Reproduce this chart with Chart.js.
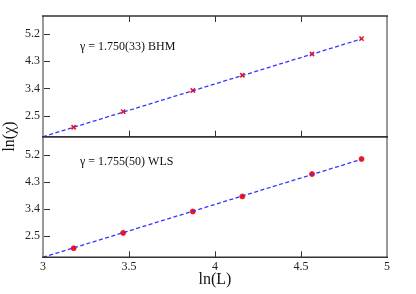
<!DOCTYPE html>
<html>
<head>
<meta charset="utf-8">
<script src="https://cdn.jsdelivr.net/npm/chart.js@4.4.1/dist/chart.umd.min.js"></script>
<style>
  html, body { margin:0; padding:0; background:#fff; }
  #wrap { position:relative; width:416px; height:294px; }
  canvas { position:absolute; left:0; top:0; }
</style>
</head>
<body>
<div id="wrap">
  <canvas id="bot" width="416" height="294"></canvas>
  <canvas id="top" width="416" height="294"></canvas>
</div>
<script>
// ---- data ----
const lnL      = [3.178, 3.466, 3.871, 4.159, 4.564, 4.852];
const chiBHM   = [2.115, 2.63, 3.33, 3.835, 4.54, 5.05];
const chiWLS   = [2.10, 2.61, 3.32, 3.82, 4.56, 5.06];
const fitX     = [3.0, 4.852];
const fitBHM   = [1.80, 5.04];
const fitWLS   = [1.80, 5.05];
const yTicks   = [2.5, 3.4, 4.3, 5.2];
const xTicks   = [3, 3.5, 4, 4.5, 5];
const labelBHM = 'γ = 1.750(33) BHM';
const labelWLS = 'γ = 1.755(50) WLS';
const xTitle   = 'ln(L)';
const yTitle   = 'ln(χ)';

const SERIF = "'Liberation Serif', 'DejaVu Serif', serif";
const pts = ys => lnL.map((x, i) => ({x, y: ys[i]}));
const line = ys => fitX.map((x, i) => ({x, y: ys[i]}));

const framePlugin = {
  id: 'frame',
  afterDraw(chart, args, opts) {
    const {ctx, chartArea: a, scales: {x, y}} = chart;
    ctx.save();
    // inward tick marks
    ctx.strokeStyle = '#333';
    ctx.lineWidth = 1;
    ctx.beginPath();
    xTicks.forEach(v => {
      const px = Math.round(x.getPixelForValue(v)) + 0.5;
      if (opts.ticksTop) { ctx.moveTo(px, a.top); ctx.lineTo(px, a.top + 6); }
      ctx.moveTo(px, a.bottom); ctx.lineTo(px, a.bottom - 6);
    });
    yTicks.forEach(v => {
      const py = Math.round(y.getPixelForValue(v)) + 0.5;
      ctx.moveTo(a.left, py); ctx.lineTo(a.left + 7, py);
    });
    ctx.stroke();
    // vertical borders (grey)
    ctx.strokeStyle = '#999';
    ctx.lineWidth = 2;
    ctx.beginPath();
    ctx.moveTo(a.left, a.top); ctx.lineTo(a.left, a.bottom);
    ctx.moveTo(a.right, a.top); ctx.lineTo(a.right, a.bottom);
    ctx.stroke();
    // horizontal borders (dark)
    ctx.strokeStyle = '#333';
    ctx.lineWidth = 1.5;
    ctx.beginPath();
    ctx.moveTo(a.left - 1, a.top); ctx.lineTo(a.right + 1, a.top);
    ctx.moveTo(a.left - 1, a.bottom); ctx.lineTo(a.right + 1, a.bottom);
    ctx.stroke();
    // annotation
    ctx.fillStyle = '#111';
    ctx.font = '12px ' + SERIF;
    ctx.textBaseline = 'middle';
    ctx.textAlign = 'left';
    ctx.fillText(opts.text, a.left + opts.dx, a.top + opts.dy);
    // y title (shared)
    if (opts.yTitle) {
      ctx.save();
      ctx.translate(10, 136.5);
      ctx.rotate(-Math.PI / 2);
      ctx.font = '16px ' + SERIF;
      ctx.textAlign = 'center';
      ctx.textBaseline = 'middle';
      ctx.fillText(opts.yTitle, 0, 0);
      ctx.restore();
    }
    ctx.restore();
  }
};

function makeChart(id, data, fit, marker, opts) {
  return new Chart(document.getElementById(id), {
    type: 'scatter',
    data: {
      datasets: [
        {
          data: pts(data),
          pointStyle: marker,
          pointRadius: marker === 'crossRot' ? 3 : 2.5,
          pointBorderWidth: marker === 'crossRot' ? 1.6 : 0.8,
          pointBackgroundColor: '#ff1010',
          pointBorderColor: '#ff1010',
          showLine: false,
          order: 2
        },
        {
          data: line(fit),
          showLine: true,
          borderColor: '#3535ff',
          borderWidth: 1.3,
          borderDash: [4, 2.5],
          pointRadius: 0,
          fill: false,
          order: 1
        }
      ]
    },
    options: {
      responsive: false,
      animation: false,
      devicePixelRatio: 1,
      layout: { padding: opts.padding },
      plugins: {
        legend: { display: false },
        tooltip: { enabled: false },
        frame: opts.frame
      },
      scales: {
        x: {
          type: 'linear', min: 3, max: 5,
          display: opts.showX,
          afterBuildTicks: s => { s.ticks = xTicks.map(v => ({value: v})); },
          afterFit: s => { s.height = opts.xHeight; },
          grid: { display: false, drawTicks: false },
          border: { display: false },
          ticks: { padding: 2, color: '#222', font: { family: SERIF, size: 12 },
                   callback: v => String(v) },
          title: {
            display: opts.showX, text: xTitle, color: '#111',
            font: { family: SERIF, size: 16 }, padding: { top: 0, bottom: 5 }
          }
        },
        y: {
          type: 'linear', min: 1.8, max: 5.8,
          afterBuildTicks: s => { s.ticks = yTicks.map(v => ({value: v})); },
          afterFit: s => { s.width = 43; },
          grid: { display: false, drawTicks: false },
          border: { display: false },
          ticks: { padding: 3, color: '#222', font: { family: SERIF, size: 12 },
                   callback: v => v.toFixed(1) }
        }
      }
    },
    plugins: [framePlugin]
  });
}

makeChart('top', chiBHM, fitBHM, 'crossRot', {
  padding: { left: 0, top: 16, right: 29, bottom: 157.3 },
  showX: false, xHeight: 0,
  frame: { ticksTop: true, text: labelBHM, dx: 37, dy: 30.7 }
});
makeChart('bot', chiWLS, fitWLS, 'circle', {
  padding: { left: 0, top: 136.7, right: 29, bottom: 0 },
  showX: true, xHeight: 36.7,
  frame: { ticksTop: false, text: labelWLS, dx: 37, dy: 25.3, yTitle: yTitle }
});
</script>
</body>
</html>
